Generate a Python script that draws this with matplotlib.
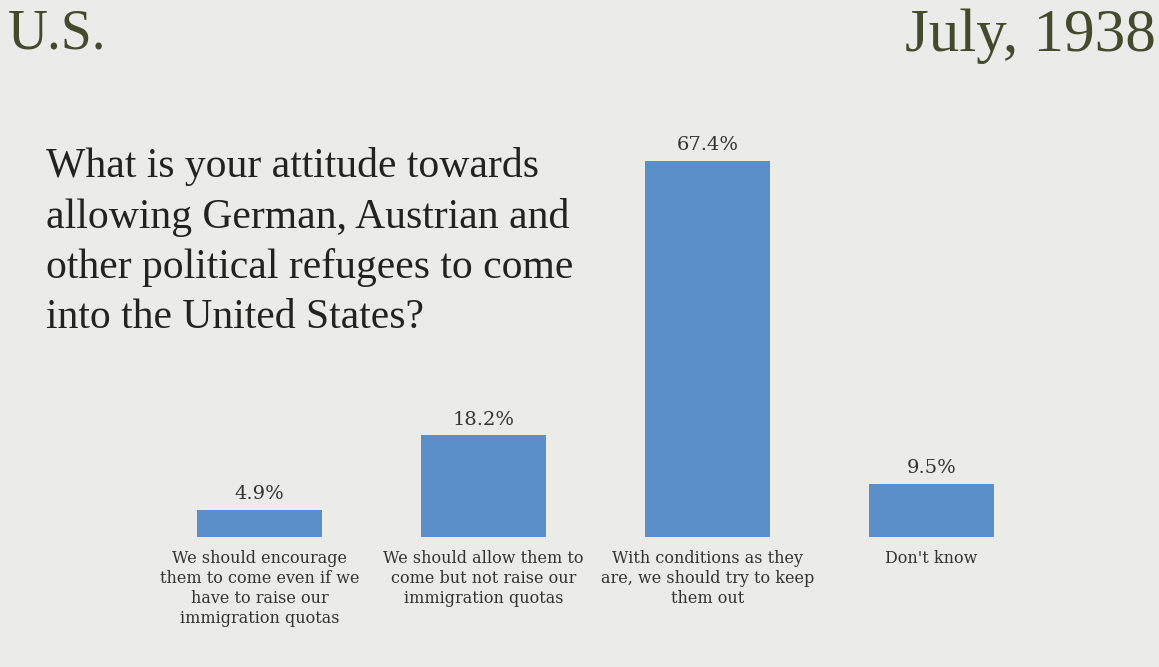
import matplotlib.pyplot as plt

plt.rcParams['font.family'] = ['Liberation Serif', 'DejaVu Serif']

categories = [
    "We should encourage\nthem to come even if we\nhave to raise our\nimmigration quotas",
    "We should allow them to\ncome but not raise our\nimmigration quotas",
    "With conditions as they\nare, we should try to keep\nthem out",
    "Don't know",
]
values = [4.9, 18.2, 67.4, 9.5]
value_labels = ["4.9%", "18.2%", "67.4%", "9.5%"]

bg = '#ebebe9'
bar_color = '#5b8fca'
title_color = '#434b2c'
small_font = ['DejaVu Serif']

fig = plt.figure(figsize=(11.59, 6.67), dpi=100, facecolor=bg)
ax = fig.add_axes([0.1273, 0.1949, 0.7731, 0.5856])
ax.set_facecolor('none')

x = range(len(values))
bars = ax.bar(x, values, width=0.558, color=bar_color)
ax.set_xlim(-0.5, 3.5)
ax.set_ylim(0, 70)

for xi, v, lab in zip(x, values, value_labels):
    ax.annotate(lab, (xi, v), xytext=(0, 5), textcoords='offset points',
                ha='center', va='bottom', fontsize=14, color='#333333',
                family=small_font)

ax.set_xticks(list(x))
ax.set_xticklabels(categories, fontsize=11.5, color='#333333', linespacing=1.25,
                   family=small_font)
ax.tick_params(axis='x', length=0, pad=9)
ax.set_yticks([])
for s in ax.spines.values():
    s.set_visible(False)

fig.text(0.007, 0.988, "U.S.", fontsize=40, color=title_color, ha='left', va='top')
fig.text(0.997, 0.988, "July, 1938", fontsize=44, color=title_color, ha='right', va='top')

question = ("What is your attitude towards\nallowing German, Austrian and\n"
            "other political refugees to come\ninto the United States?")
fig.text(0.040, 0.779, question, fontsize=30, color='#222222', ha='left', va='top',
         linespacing=1.38)

fig.savefig('out.png', dpi=100, facecolor=bg)
